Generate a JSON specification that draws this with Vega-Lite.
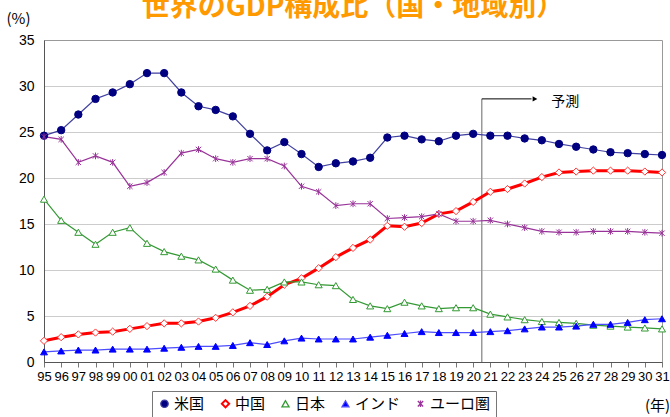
{
  "$schema": "https://vega.github.io/schema/vega-lite/v6.json",
  "autosize": "none",
  "width": 618,
  "height": 322,
  "padding": {"left": 44, "top": 40, "right": 8, "bottom": 55},
  "background": "white",
  "config": {
    "view": {"stroke": "#999999", "strokeWidth": 1},
    "font": "Liberation Sans",
    "legend": {
      "orient": "none",
      "direction": "horizontal",
      "strokeColor": "#777777",
      "strokeWidth": 1,
      "fillColor": "#FFFFFF",
      "padding": 5,
      "columnPadding": 12,
      "symbolSize": 400,
      "symbolStrokeWidth": 1.3,
      "labelFont": "Noto Sans CJK JP",
      "labelFontSize": 15,
      "labelColor": "#000000",
      "labelOffset": 2
    }
  },
  "title": {
    "text": "世界のGDP構成比（国・地域別）",
    "font": "Noto Sans CJK JP",
    "fontSize": 28,
    "fontWeight": "bold",
    "color": "#FF9900",
    "anchor": "middle",
    "offset": -11,
    "dx": 0
  },
  "datasets": {
    "gdp": [
      {"year":1995,"series":"米国","value":24.6},{"year":1996,"series":"米国","value":25.2},{"year":1997,"series":"米国","value":26.9},{"year":1998,"series":"米国","value":28.6},{"year":1999,"series":"米国","value":29.3},{"year":2000,"series":"米国","value":30.2},{"year":2001,"series":"米国","value":31.4},{"year":2002,"series":"米国","value":31.4},{"year":2003,"series":"米国","value":29.3},{"year":2004,"series":"米国","value":27.8},{"year":2005,"series":"米国","value":27.4},{"year":2006,"series":"米国","value":26.7},{"year":2007,"series":"米国","value":24.8},{"year":2008,"series":"米国","value":23.0},{"year":2009,"series":"米国","value":23.9},{"year":2010,"series":"米国","value":22.6},{"year":2011,"series":"米国","value":21.2},{"year":2012,"series":"米国","value":21.6},{"year":2013,"series":"米国","value":21.8},{"year":2014,"series":"米国","value":22.2},{"year":2015,"series":"米国","value":24.4},{"year":2016,"series":"米国","value":24.6},{"year":2017,"series":"米国","value":24.2},{"year":2018,"series":"米国","value":24.0},{"year":2019,"series":"米国","value":24.6},{"year":2020,"series":"米国","value":24.8},{"year":2021,"series":"米国","value":24.6},{"year":2022,"series":"米国","value":24.6},{"year":2023,"series":"米国","value":24.3},{"year":2024,"series":"米国","value":24.1},{"year":2025,"series":"米国","value":23.7},{"year":2026,"series":"米国","value":23.4},{"year":2027,"series":"米国","value":23.1},{"year":2028,"series":"米国","value":22.8},{"year":2029,"series":"米国","value":22.7},{"year":2030,"series":"米国","value":22.6},{"year":2031,"series":"米国","value":22.5},
      {"year":1995,"series":"中国","value":2.3},{"year":1996,"series":"中国","value":2.7},{"year":1997,"series":"中国","value":3.0},{"year":1998,"series":"中国","value":3.2},{"year":1999,"series":"中国","value":3.3},{"year":2000,"series":"中国","value":3.6},{"year":2001,"series":"中国","value":3.9},{"year":2002,"series":"中国","value":4.2},{"year":2003,"series":"中国","value":4.2},{"year":2004,"series":"中国","value":4.4},{"year":2005,"series":"中国","value":4.8},{"year":2006,"series":"中国","value":5.4},{"year":2007,"series":"中国","value":6.1},{"year":2008,"series":"中国","value":7.1},{"year":2009,"series":"中国","value":8.4},{"year":2010,"series":"中国","value":9.1},{"year":2011,"series":"中国","value":10.2},{"year":2012,"series":"中国","value":11.4},{"year":2013,"series":"中国","value":12.4},{"year":2014,"series":"中国","value":13.3},{"year":2015,"series":"中国","value":14.8},{"year":2016,"series":"中国","value":14.7},{"year":2017,"series":"中国","value":15.1},{"year":2018,"series":"中国","value":16.1},{"year":2019,"series":"中国","value":16.4},{"year":2020,"series":"中国","value":17.4},{"year":2021,"series":"中国","value":18.5},{"year":2022,"series":"中国","value":18.8},{"year":2023,"series":"中国","value":19.4},{"year":2024,"series":"中国","value":20.1},{"year":2025,"series":"中国","value":20.6},{"year":2026,"series":"中国","value":20.7},{"year":2027,"series":"中国","value":20.8},{"year":2028,"series":"中国","value":20.8},{"year":2029,"series":"中国","value":20.8},{"year":2030,"series":"中国","value":20.7},{"year":2031,"series":"中国","value":20.6},
      {"year":1995,"series":"日本","value":17.7},{"year":1996,"series":"日本","value":15.4},{"year":1997,"series":"日本","value":14.1},{"year":1998,"series":"日本","value":12.8},{"year":1999,"series":"日本","value":14.1},{"year":2000,"series":"日本","value":14.6},{"year":2001,"series":"日本","value":12.9},{"year":2002,"series":"日本","value":12.0},{"year":2003,"series":"日本","value":11.5},{"year":2004,"series":"日本","value":11.1},{"year":2005,"series":"日本","value":10.1},{"year":2006,"series":"日本","value":8.9},{"year":2007,"series":"日本","value":7.8},{"year":2008,"series":"日本","value":7.9},{"year":2009,"series":"日本","value":8.7},{"year":2010,"series":"日本","value":8.7},{"year":2011,"series":"日本","value":8.4},{"year":2012,"series":"日本","value":8.3},{"year":2013,"series":"日本","value":6.8},{"year":2014,"series":"日本","value":6.1},{"year":2015,"series":"日本","value":5.8},{"year":2016,"series":"日本","value":6.5},{"year":2017,"series":"日本","value":6.1},{"year":2018,"series":"日本","value":5.8},{"year":2019,"series":"日本","value":5.9},{"year":2020,"series":"日本","value":5.9},{"year":2021,"series":"日本","value":5.2},{"year":2022,"series":"日本","value":4.9},{"year":2023,"series":"日本","value":4.6},{"year":2024,"series":"日本","value":4.4},{"year":2025,"series":"日本","value":4.3},{"year":2026,"series":"日本","value":4.2},{"year":2027,"series":"日本","value":4.0},{"year":2028,"series":"日本","value":3.9},{"year":2029,"series":"日本","value":3.8},{"year":2030,"series":"日本","value":3.7},{"year":2031,"series":"日本","value":3.6},
      {"year":1995,"series":"インド","value":1.1},{"year":1996,"series":"インド","value":1.2},{"year":1997,"series":"インド","value":1.3},{"year":1998,"series":"インド","value":1.3},{"year":1999,"series":"インド","value":1.4},{"year":2000,"series":"インド","value":1.4},{"year":2001,"series":"インド","value":1.4},{"year":2002,"series":"インド","value":1.5},{"year":2003,"series":"インド","value":1.6},{"year":2004,"series":"インド","value":1.7},{"year":2005,"series":"インド","value":1.7},{"year":2006,"series":"インド","value":1.8},{"year":2007,"series":"インド","value":2.1},{"year":2008,"series":"インド","value":1.9},{"year":2009,"series":"インド","value":2.3},{"year":2010,"series":"インド","value":2.6},{"year":2011,"series":"インド","value":2.5},{"year":2012,"series":"インド","value":2.5},{"year":2013,"series":"インド","value":2.5},{"year":2014,"series":"インド","value":2.7},{"year":2015,"series":"インド","value":2.9},{"year":2016,"series":"インド","value":3.1},{"year":2017,"series":"インド","value":3.3},{"year":2018,"series":"インド","value":3.2},{"year":2019,"series":"インド","value":3.2},{"year":2020,"series":"インド","value":3.2},{"year":2021,"series":"インド","value":3.3},{"year":2022,"series":"インド","value":3.4},{"year":2023,"series":"インド","value":3.6},{"year":2024,"series":"インド","value":3.8},{"year":2025,"series":"インド","value":3.8},{"year":2026,"series":"インド","value":3.9},{"year":2027,"series":"インド","value":4.1},{"year":2028,"series":"インド","value":4.1},{"year":2029,"series":"インド","value":4.3},{"year":2030,"series":"インド","value":4.6},{"year":2031,"series":"インド","value":4.7},
      {"year":1995,"series":"ユーロ圏","value":24.5},{"year":1996,"series":"ユーロ圏","value":24.2},{"year":1997,"series":"ユーロ圏","value":21.7},{"year":1998,"series":"ユーロ圏","value":22.4},{"year":1999,"series":"ユーロ圏","value":21.7},{"year":2000,"series":"ユーロ圏","value":19.1},{"year":2001,"series":"ユーロ圏","value":19.5},{"year":2002,"series":"ユーロ圏","value":20.6},{"year":2003,"series":"ユーロ圏","value":22.7},{"year":2004,"series":"ユーロ圏","value":23.1},{"year":2005,"series":"ユーロ圏","value":22.1},{"year":2006,"series":"ユーロ圏","value":21.7},{"year":2007,"series":"ユーロ圏","value":22.1},{"year":2008,"series":"ユーロ圏","value":22.1},{"year":2009,"series":"ユーロ圏","value":21.3},{"year":2010,"series":"ユーロ圏","value":19.1},{"year":2011,"series":"ユーロ圏","value":18.5},{"year":2012,"series":"ユーロ圏","value":17.0},{"year":2013,"series":"ユーロ圏","value":17.2},{"year":2014,"series":"ユーロ圏","value":17.2},{"year":2015,"series":"ユーロ圏","value":15.6},{"year":2016,"series":"ユーロ圏","value":15.7},{"year":2017,"series":"ユーロ圏","value":15.8},{"year":2018,"series":"ユーロ圏","value":16.1},{"year":2019,"series":"ユーロ圏","value":15.3},{"year":2020,"series":"ユーロ圏","value":15.3},{"year":2021,"series":"ユーロ圏","value":15.4},{"year":2022,"series":"ユーロ圏","value":15.0},{"year":2023,"series":"ユーロ圏","value":14.6},{"year":2024,"series":"ユーロ圏","value":14.2},{"year":2025,"series":"ユーロ圏","value":14.1},{"year":2026,"series":"ユーロ圏","value":14.1},{"year":2027,"series":"ユーロ圏","value":14.2},{"year":2028,"series":"ユーロ圏","value":14.2},{"year":2029,"series":"ユーロ圏","value":14.2},{"year":2030,"series":"ユーロ圏","value":14.1},{"year":2031,"series":"ユーロ圏","value":14.0}
    ],
    "vline": [{"year": 2020.5, "y0": 0, "y1": 28.6}],
    "arrow": [{"year": 2020.5, "year2": 2023.4, "y": 28.6}],
    "head": [{"year": 2023.6, "y": 28.6}],
    "label": [{"year": 2024.55, "y": 28.25, "text": "予測"}]
  },
  "encoding": {
    "x": {
      "field": "year",
      "type": "quantitative",
      "scale": {"domain": [1995, 2031], "nice": false, "zero": false},
      "axis": {
        "values": [1995,1996,1997,1998,1999,2000,2001,2002,2003,2004,2005,2006,2007,2008,2009,2010,2011,2012,2013,2014,2015,2016,2017,2018,2019,2020,2021,2022,2023,2024,2025,2026,2027,2028,2029,2030,2031],
        "labelExpr": "substring(toString(datum.value), 2)",
        "labelOverlap": false,
        "labelFont": "Liberation Sans",
        "labelFontSize": 13,
        "labelColor": "#000000",
        "labelPadding": 3,
        "labelFlush": false,
        "grid": false,
        "ticks": true,
        "tickSize": 5,
        "tickColor": "#777777",
        "domainColor": "#555555",
        "title": "(年)",
        "titleFont": "Noto Sans CJK JP",
        "titleFontSize": 15,
        "titleFontWeight": "normal",
        "titleColor": "#000000",
        "titleX": 613,
        "titleY": 43,
        "titleAlign": "center",
        "titleBaseline": "middle"
      }
    },
    "y": {
      "field": "value",
      "type": "quantitative",
      "scale": {"domain": [0, 35], "nice": false},
      "axis": {
        "values": [0, 5, 10, 15, 20, 25, 30, 35],
        "labelFont": "Liberation Sans",
        "labelFontSize": 14,
        "labelColor": "#000000",
        "labelPadding": 10,
        "ticks": false,
        "tickSize": 0,
        "domainColor": "#555555",
        "grid": true,
        "gridColor": "#999999",
        "gridDash": [1, 1],
        "gridWidth": 1,
        "title": "(%)",
        "titleFont": "Noto Sans CJK JP",
        "titleFontSize": 15,
        "titleFontWeight": "normal",
        "titleColor": "#000000",
        "titleAngle": 0,
        "titleX": -26,
        "titleY": -22,
        "titleAlign": "center",
        "titleBaseline": "middle"
      }
    }
  },
  "layer": [
    {
      "data": {"name": "vline"},
      "mark": {"type": "rule", "color": "#999999", "strokeWidth": 1.5},
      "encoding": {
        "x": {"field": "year", "type": "quantitative"},
        "y": {"field": "y0", "type": "quantitative"},
        "y2": {"field": "y1"}
      }
    },
    {
      "data": {"name": "gdp"},
      "mark": {"type": "line"},
      "encoding": {
        "strokeWidth": {"condition": {"test": "datum.series === '中国'", "value": 3}, "value": 1.2},
        "color": {
          "field": "series",
          "type": "nominal",
          "scale": {"domain": ["米国","中国","日本","インド","ユーロ圏"], "range": ["#4040A0","#FF0000","#339933","#4D4DFF","#993399"]},
          "legend": {
            "title": null,
            "legendX": 108,
            "legendY": 351,
            "strokeColor": "#777777",
            "padding": 5,
            "symbolSize": 400,
            "encode": {
              "legend": {
                "update": {
                  "stroke": {"value": "#777777"},
                  "strokeWidth": {"value": 1},
                  "fill": {"value": "#FFFFFF"}
                }
              },
              "symbols": {
                "update": {
                  "size": {"value": 400},
                  "shape": {"signal": "datum.value === '米国' ? 'M-1,0L-0.3,0M0.3,0L1,0M-0.3,0A0.3,0.3 0 1,0 0.3,0A0.3,0.3 0 1,0 -0.3,0Z' : datum.value === '中国' ? 'M-1,0L-0.3,0M0.3,0L1,0M-0.3,0L0,-0.3L0.3,0L0,0.3Z' : datum.value === 'ユーロ圏' ? 'M-1,0L1,0M-0.25,-0.25L0.25,0.25M-0.25,0.25L0.25,-0.25M0,-0.3L0,0.3' : 'M-1,0L-0.28,0M0.28,0L1,0M0,-0.3L0.3,0.22L-0.3,0.22Z'"},
                  "fill": {"signal": "datum.value === '米国' ? '#000080' : datum.value === 'インド' ? '#0000FF' : '#FFFFFF'"},
                  "strokeWidth": {"signal": "datum.value === '中国' ? 2 : 1.3"},
                  "opacity": {"value": 1}
                }
              }
            }
          }
        }
      }
    },
    {
      "data": {"name": "gdp"},
      "mark": {"type": "point", "filled": true, "opacity": 1, "strokeWidth": 1},
      "encoding": {
        "stroke": {
          "field": "series",
          "type": "nominal",
          "scale": {"domain": ["米国","中国","日本","インド","ユーロ圏"], "range": ["#000080","#FF3333","#339933","#0000FF","#993399"]},
          "legend": null
        },
        "fill": {
          "field": "series",
          "type": "nominal",
          "scale": {"domain": ["米国","中国","日本","インド","ユーロ圏"], "range": ["#000080","#FFFFFF","#FFFFFF","#0000FF","#993399"]},
          "legend": null
        },
        "shape": {
          "field": "series",
          "type": "nominal",
          "scale": {"domain": ["米国","中国","日本","インド","ユーロ圏"], "range": ["circle","diamond","triangle-up","triangle-up","M-0.8,-0.8L0.8,0.8M-0.8,0.8L0.8,-0.8M0,-1L0,1"]},
          "legend": null
        },
        "size": {
          "field": "series",
          "type": "nominal",
          "scale": {"domain": ["米国","中国","日本","インド","ユーロ圏"], "range": [55, 45, 60, 40, 50]},
          "legend": null
        }
      }
    },
    {
      "data": {"name": "arrow"},
      "mark": {"type": "rule", "color": "#000000", "strokeWidth": 1},
      "encoding": {
        "x": {"field": "year", "type": "quantitative"},
        "x2": {"field": "year2"},
        "y": {"field": "y", "type": "quantitative"}
      }
    },
    {
      "data": {"name": "head"},
      "mark": {"type": "point", "shape": "triangle-right", "filled": true, "color": "#000000", "size": 30, "opacity": 1},
      "encoding": {
        "x": {"field": "year", "type": "quantitative"},
        "y": {"field": "y", "type": "quantitative"}
      }
    },
    {
      "data": {"name": "label"},
      "mark": {"type": "text", "align": "left", "baseline": "middle", "font": "Noto Sans CJK JP", "fontSize": 14, "color": "#000000"},
      "encoding": {
        "x": {"field": "year", "type": "quantitative"},
        "y": {"field": "y", "type": "quantitative"},
        "text": {"field": "text"}
      }
    }
  ]
}
